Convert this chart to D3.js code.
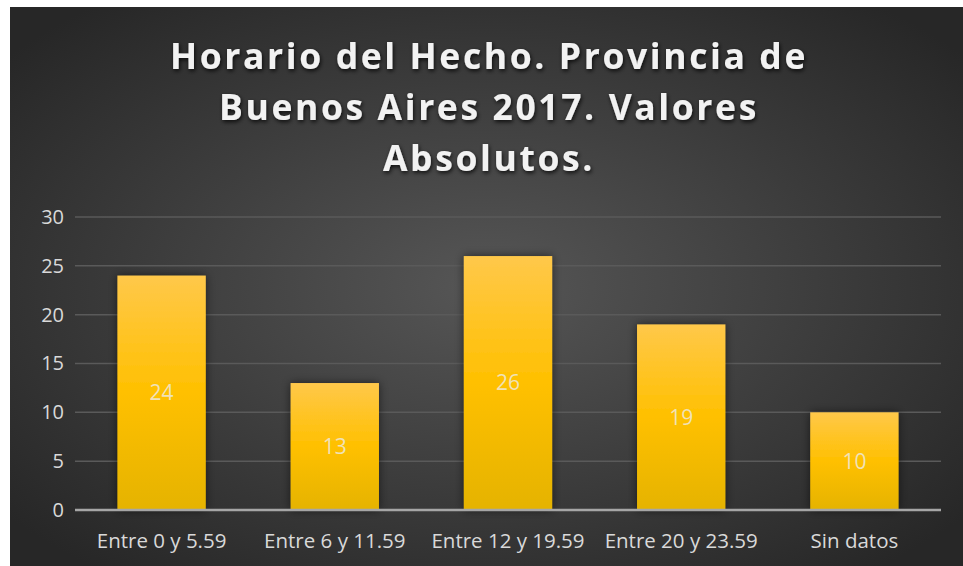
<!DOCTYPE html>
<html><head><meta charset="utf-8">
<script src="https://cdn.jsdelivr.net/npm/d3@7"></script>
<style>
html,body{margin:0;padding:0;background:#fff;}
svg{display:block;}
</style></head>
<body>
<svg id="chart" width="963" height="566"></svg>
<script>
const categories = ["Entre 0 y 5.59","Entre 6 y 11.59","Entre 12 y 19.59","Entre 20 y 23.59","Sin datos"];
const values = [24,13,26,19,10];
const yTicks = [0,5,10,15,20,25,30];
const titleLines = ["Horario del Hecho. Provincia de","Buenos Aires 2017. Valores","Absolutos."];

const svg = d3.select("#chart");
const defs = svg.append("defs");

const bg = defs.append("radialGradient").attr("id","bg")
  .attr("cx","50%").attr("cy","50%").attr("r","65%");
bg.append("stop").attr("offset","0%").attr("stop-color","#565656");
bg.append("stop").attr("offset","100%").attr("stop-color","#272727");

const bar = defs.append("linearGradient").attr("id","bar").attr("x1",0).attr("y1",0).attr("x2",0).attr("y2",1);
bar.append("stop").attr("offset","0%").attr("stop-color","#ffc84a");
bar.append("stop").attr("offset","50%").attr("stop-color","#ffc000");
bar.append("stop").attr("offset","100%").attr("stop-color","#e5b300");

const sh = defs.append("filter").attr("id","sh").attr("x","-20%").attr("y","-20%").attr("width","140%").attr("height","140%");
sh.append("feDropShadow").attr("dx",0).attr("dy",0).attr("stdDeviation",5).attr("flood-color","#000").attr("flood-opacity",0.55);

const tsh = defs.append("filter").attr("id","tsh").attr("x","-10%").attr("y","-30%").attr("width","120%").attr("height","160%");
tsh.append("feDropShadow").attr("dx",1).attr("dy",2).attr("stdDeviation",2).attr("flood-color","#000").attr("flood-opacity",0.8);

svg.append("rect").attr("x",10).attr("y",7).attr("width",953).attr("height",559).attr("fill","url(#bg)");

const m = {left:75,right:941,top:217,bottom:510};
const x = d3.scaleBand().domain(categories).range([m.left,m.right]).paddingInner(0.49).paddingOuter(0.245);
const y = d3.scaleLinear().domain([0,30]).range([m.bottom,m.top]);

// gridlines
svg.append("g").selectAll("line").data(yTicks.filter(d=>d>0)).join("line")
  .attr("x1",m.left).attr("x2",m.right)
  .attr("y1",d=>y(d)).attr("y2",d=>y(d))
  .attr("stroke","#5a5a5a").attr("stroke-width",1.5);

// y axis labels
const yAxis = d3.axisLeft(y).tickValues(yTicks).tickSize(0).tickPadding(0);
const ga = svg.append("g").attr("transform",`translate(${m.left-11},0)`).call(yAxis);
ga.select(".domain").remove();
ga.selectAll("text").attr("font-family","Open Sans, sans-serif").attr("font-size",20).attr("fill","#d9d9d9");

// bars
svg.append("g").selectAll("rect").data(values).join("rect")
  .attr("x",(d,i)=>x(categories[i]))
  .attr("width",x.bandwidth())
  .attr("y",d=>y(d))
  .attr("height",d=>y(0)-y(d))
  .attr("fill","url(#bar)")
  .attr("filter","url(#sh)");

// baseline
svg.append("line").attr("x1",m.left).attr("x2",m.right).attr("y1",y(0)).attr("y2",y(0))
  .attr("stroke","#a6a6a6").attr("stroke-width",2.5);

// data labels
svg.append("g").selectAll("text").data(values).join("text")
  .attr("x",(d,i)=>x(categories[i])+x.bandwidth()/2)
  .attr("y",d=>(y(d)+y(0))/2)
  .attr("dy","0.35em")
  .attr("text-anchor","middle")
  .attr("font-family","Open Sans, sans-serif").attr("font-size",21)
  .attr("fill","#f0e2b8")
  .text(d=>d);

// x axis labels
const xAxis = d3.axisBottom(x).tickSize(0).tickPadding(0);
const gx = svg.append("g").attr("transform",`translate(0,${m.bottom+38})`).call(xAxis);
gx.select(".domain").remove();
gx.selectAll("text").attr("dy",0).attr("font-family","Open Sans, sans-serif").attr("font-size",20.5).attr("fill","#d9d9d9");

// title
svg.append("g").selectAll("text").data(titleLines).join("text")
  .attr("x",489).attr("y",(d,i)=>69+i*51)
  .attr("text-anchor","middle")
  .attr("font-family","Open Sans, sans-serif").attr("font-weight","bold").attr("font-size",35.5)
  .attr("letter-spacing","2.6px")
  .attr("fill","#f2f2f2").attr("filter","url(#tsh)")
  .text(d=>d);
</script>
</body></html>
